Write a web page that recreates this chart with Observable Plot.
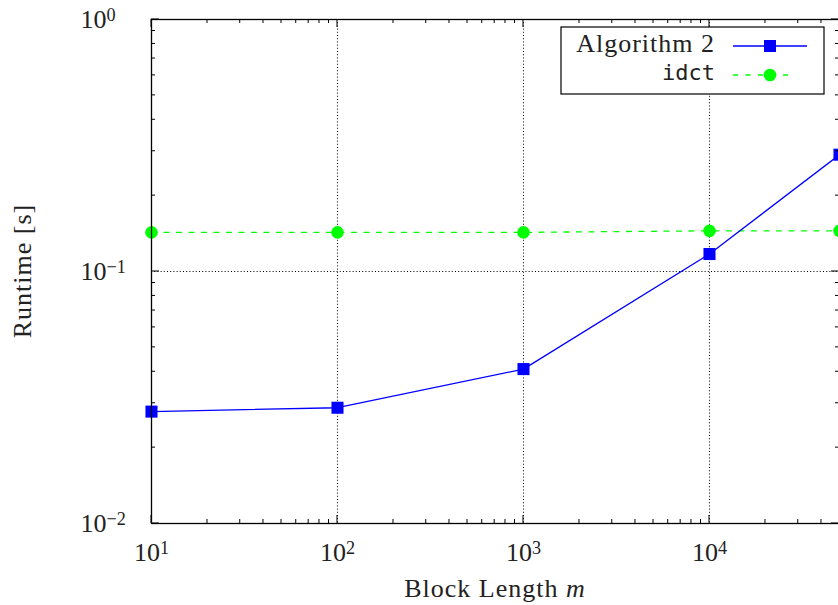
<!DOCTYPE html>
<html><head><meta charset="utf-8">
<script src="https://cdn.jsdelivr.net/npm/d3@7"></script>
<script src="https://cdn.jsdelivr.net/npm/@observablehq/plot@0.6"></script>
<style>html,body{margin:0;padding:0;background:#fff;overflow:hidden;}#chart{width:838px;height:605px;overflow:hidden;}#chart svg{max-width:none !important;}</style>
</head><body><div id="chart"></div>
<script>
// ---- data ----
const blockLengths = [10, 100, 1000, 10000, 50000];
const algorithm2 = [0.0278, 0.0288, 0.0410, 0.1173, 0.2907];
const idct = [0.143, 0.143, 0.143, 0.145, 0.145];
const xTicks = [10, 100, 1000, 10000];
const xExponents = ["1", "2", "3", "4"];
const yTicks = [1, 0.1, 0.01];
const yExponents = ["0", "\u22121", "\u22122"];
const seriesNames = ["Algorithm 2", "idct"];
const xLabel = "Block Length ";
const xLabelVar = "m";
const yLabel = "Runtime [s]";

const BLUE = "#0000ff", GREEN = "#00ff00";
const serif = "Liberation Serif";
const mono = "DejaVu Sans Mono";

const rowsA = blockLengths.map((x, i) => ({x, y: algorithm2[i]}));
const rowsB = blockLengths.map((x, i) => ({x, y: idct[i]}));

const expX = new Map(xTicks.map((t, i) => [t, xExponents[i]]));
const expY = new Map(yTicks.map((t, i) => [t, yExponents[i]]));

const plot = Plot.plot({
  width: 860, height: 605,
  marginLeft: 151, marginRight: 21, marginTop: 19, marginBottom: 82,
  style: {fontFamily: serif, fontSize: "26px", color: "black", background: "white", overflow: "visible", maxWidth: "none"},
  x: {type: "log", domain: [10, 50000]},
  y: {type: "log", domain: [0.01, 1]},
  marks: [
    Plot.ruleX(xTicks.slice(1), {stroke: "black", strokeWidth: 1, strokeDasharray: "1,2.2"}),
    Plot.ruleY([0.1], {stroke: "black", strokeWidth: 1, strokeDasharray: "1,2.2"}),
    Plot.axisX({ticks: xTicks, tickSize: 0, tickPadding: 19, tickFormat: d => "10^" + expX.get(d), label: null, fontSize: 26, fill: "#222"}),
    Plot.axisY({ticks: yTicks, tickSize: 0, tickPadding: 71, textAnchor: "start", tickFormat: d => "10^" + expY.get(d), label: null, fontSize: 26, fill: "#222"}),
    Plot.line(rowsB, {x: "x", y: "y", stroke: GREEN, strokeWidth: 1.3, strokeDasharray: "5,7.5"}),
    Plot.dot(rowsB, {x: "x", y: "y", symbol: "circle", fill: GREEN, r: 6.3}),
    Plot.line(rowsA, {x: "x", y: "y", stroke: BLUE, strokeWidth: 1.3}),
    Plot.dot(rowsA, {x: "x", y: "y", symbol: "square", fill: BLUE, r: 6.8}),
    Plot.frame({stroke: "black", strokeWidth: 1.3})
  ]
});

document.getElementById("chart").appendChild(plot);
const svg = d3.select(plot);

// superscript tick labels
svg.selectAll("g[aria-label$='tick label'] text").each(function() {
  const t = this.textContent;
  if (!t.includes("^")) return;
  const [base, exp] = t.split("^");
  this.textContent = "";
  const el = d3.select(this);
  el.append("tspan").text(base);
  el.append("tspan").attr("dy", "-0.38em").attr("font-size", "0.7em").text(exp);
});

const sx = plot.scale("x"), sy = plot.scale("y");
const L = sx.apply(10), R = sx.apply(50000), T = sy.apply(1), B = sy.apply(0.01);
const g = svg.append("g").attr("stroke", "black").attr("stroke-width", 1);

// inward ticks on all four sides
const xMinor = [], yMinor = [];
for (const k of [1, 2, 3, 4]) for (let m = 2; m <= 9; m++) { const v = m * 10 ** k; if (v < 50000) xMinor.push(v); }
for (const k of [-2, -1]) for (let m = 2; m <= 9; m++) yMinor.push(m * 10 ** k);
const tick = (x1, y1, x2, y2) => g.append("line").attr("x1", x1).attr("y1", y1).attr("x2", x2).attr("y2", y2);
for (const v of xTicks) { const x = sx.apply(v); tick(x, B, x, B - 8); tick(x, T, x, T + 8); }
for (const v of xMinor) { const x = sx.apply(v); tick(x, B, x, B - 4); tick(x, T, x, T + 4); }
for (const v of yTicks) { const y = sy.apply(v); tick(L, y, L + 8, y); tick(R, y, R - 8, y); }
for (const v of yMinor) { const y = sy.apply(v); tick(L, y, L + 4, y); tick(R, y, R - 4, y); }

// axis titles
const xl = svg.append("text").attr("x", (L + R) / 2).attr("y", 597).attr("text-anchor", "middle")
  .attr("font-family", serif).attr("font-size", 26).attr("letter-spacing", "1px").attr("fill", "#222");
xl.append("tspan").text(xLabel);
xl.append("tspan").attr("font-style", "italic").text(xLabelVar);
svg.append("text").attr("transform", `translate(31,${(T + B) / 2}) rotate(-90)`).attr("text-anchor", "middle")
  .attr("font-family", serif).attr("font-size", 26).attr("letter-spacing", "1px").attr("fill", "#222").text(yLabel);

// legend
const lg = svg.append("g");
lg.append("rect").attr("x", 561).attr("y", 27).attr("width", 263).attr("height", 67)
  .attr("fill", "white").attr("stroke", "black").attr("stroke-width", 1.2);
lg.append("text").attr("x", 715).attr("y", 52).attr("text-anchor", "end").attr("font-family", serif)
  .attr("font-size", 26).attr("letter-spacing", "1px").attr("fill", "#222").text(seriesNames[0]);
lg.append("line").attr("x1", 733).attr("x2", 807).attr("y1", 46).attr("y2", 46).attr("stroke", BLUE).attr("stroke-width", 1.3);
lg.append("path").attr("d", d3.symbol(d3.symbolSquare, 6.8 * 6.8 * Math.PI)()).attr("transform", "translate(770,46)").attr("fill", BLUE);
lg.append("text").attr("x", 715).attr("y", 80).attr("text-anchor", "end").attr("font-family", mono)
  .attr("font-size", 22).attr("fill", "#222").text(seriesNames[1]);
lg.append("line").attr("x1", 733).attr("x2", 788).attr("y1", 75).attr("y2", 75).attr("stroke", GREEN).attr("stroke-width", 1.3).attr("stroke-dasharray", "5,7.5");
lg.append("circle").attr("cx", 770).attr("cy", 75).attr("r", 6.3).attr("fill", GREEN);
</script>
</body></html>
